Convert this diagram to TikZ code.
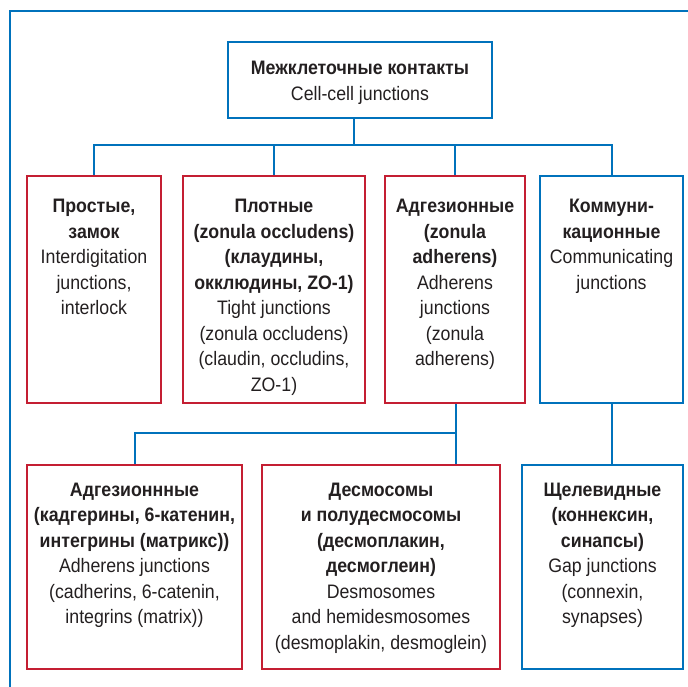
\documentclass[tikz,border=0pt]{standalone}
\usepackage{fontspec}
\setmainfont[FakeStretch=0.91]{Liberation Sans}
\definecolor{junblue}{RGB}{0,114,188}
\definecolor{junred}{RGB}{196,30,50}
\definecolor{juntext}{RGB}{35,31,32}
% width, height, first baseline, text
\newcommand{\celltext}[4]{\parbox[t][#2pt][t]{#1pt}{\centering\fontsize{19.5}{25.5}\selectfont\rule{0pt}{#3pt}#4}}
\begin{document}
\begin{tikzpicture}[x=1pt,y=-1pt,
  bluebox/.style={draw=junblue,line width=2pt,inner sep=0pt,anchor=north west,text=juntext},
  redbox/.style={draw=junred,line width=2pt,inner sep=0pt,anchor=north west,text=juntext},
  link/.style={draw=junblue,line width=2pt}]
\useasboundingbox (0,0) rectangle (688,687);
\draw[link] (688,11) -- (10,11) -- (10,687);

\node[bluebox] (cellcell) at (227,41) {\celltext{264}{76}{33}{\textbf{Межклеточные контакты}\\Cell-cell junctions}};

\node[redbox] (simple) at (26,175) {\celltext{134}{227}{37}{\textbf{Простые,\\замок}\\Interdigitation\\junctions,\\interlock}};
\node[redbox] (tight) at (182,175) {\celltext{182}{227}{37}{\textbf{Плотные\\(zonula occludens)\\(клаудины,\\окклюдины, ZO-1)}\\Tight junctions\\(zonula occludens)\\(claudin, occludins,\\ZO-1)}};
\node[redbox] (adherens) at (384,175) {\celltext{140}{227}{37}{\textbf{Адгезионные\\(zonula\\adherens)}\\Adherens\\junctions\\(zonula\\adherens)}};
\node[bluebox] (commun) at (539,175) {\celltext{143}{227}{37}{\textbf{Коммуни-\\кационные}\\Communicating\\junctions}};

\node[redbox] (adhsub) at (26,464) {\celltext{215}{204}{31}{\textbf{Адгезионнные\\(кадгерины, 6-катенин,\\интегрины (матрикс))}\\Adherens junctions\\(cadherins, 6-catenin,\\integrins (matrix))}};
\node[redbox] (desmo) at (261,464) {\celltext{238}{204}{31}{\textbf{Десмосомы\\и полудесмосомы\\(десмоплакин,\\десмоглеин)}\\Desmosomes\\and hemidesmosomes\\(desmoplakin, desmoglein)}};
\node[bluebox] (gap) at (521,464) {\celltext{161}{204}{31}{\textbf{Щелевидные\\(коннексин,\\синапсы)}\\Gap junctions\\(connexin,\\synapses)}};

% connectors
\coordinate (busa) at (354,145);
\coordinate (busb) at (456,433);
\draw[link] (cellcell.south -| busa) -- (busa);
\draw[link] (simple.north) |- (commun.north |- busa) -- (commun.north);
\draw[link] (tight.north) -- (tight.north |- busa);
\draw[link] (adherens.north) -- (adherens.north |- busa);
\draw[link] (adhsub.north) |- (busb);
\draw[link] (adherens.south -| busb) -- (desmo.north -| busb);
\draw[link] (commun.south) -- (commun.south |- gap.north);
\end{tikzpicture}
\end{document}
